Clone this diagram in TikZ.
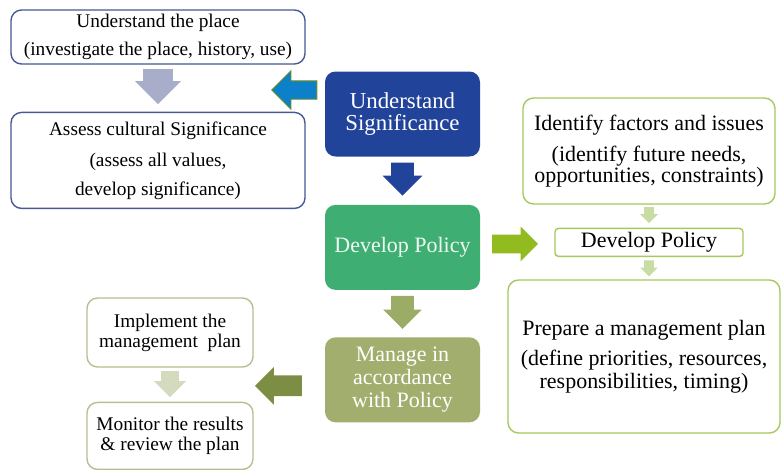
\documentclass[tikz,border=0pt]{standalone}
\usepackage{fontspec}
\setmainfont{Liberation Serif}
\usetikzlibrary{arrows,shapes,positioning,calc}

\definecolor{placeblue}{RGB}{70,88,150}
\definecolor{greyarrow}{RGB}{168,173,201}
\definecolor{skyarrow}{RGB}{12,128,200}
\definecolor{skyedge}{RGB}{90,140,60}
\definecolor{sigblue}{RGB}{34,67,154}
\definecolor{policygreen}{RGB}{62,174,114}
\definecolor{limearrow}{RGB}{146,187,31}
\definecolor{limeedge}{RGB}{166,200,92}
\definecolor{palelime}{RGB}{200,220,163}
\definecolor{olivearrow}{RGB}{155,172,102}
\definecolor{olivebox}{RGB}{161,174,109}
\definecolor{darkolive}{RGB}{125,142,68}
\definecolor{oliveedge}{RGB}{181,191,143}
\definecolor{paleolive}{RGB}{212,218,189}

\begin{document}
\begin{tikzpicture}[node distance=1cm,>=stealth']
  \tikzstyle{box}=[rectangle,rounded corners=6pt,line width=0.8pt,align=center,inner sep=2pt]
  \tikzstyle{place box}=[box,draw=placeblue,fill=white,minimum width=5.88cm,
                         font=\fontsize{11}{16}\selectfont]
  \tikzstyle{stage box}=[box,text=white,minimum width=3.1cm,minimum height=1.7cm,
                         font=\fontsize{12.5}{12.5}\selectfont]
  \tikzstyle{plan box}=[box,draw=limeedge,fill=white,font=\fontsize{12.5}{12}\selectfont]
  \tikzstyle{task box}=[box,draw=oliveedge,fill=white,minimum width=3.32cm,
                        font=\fontsize{11}{11.3}\selectfont]
  % half the shaft is the inner sep across the arrow, minimum width the head
  \tikzstyle{block}=[single arrow,draw=none,inner sep=0pt,anchor=tail]
  \tikzstyle{down}=[block,shape border rotate=270]
  \tikzstyle{left}=[block,shape border rotate=180]

  \useasboundingbox (0,0) rectangle (15.62,-9.38);

  % main column
  \node [stage box,fill=sigblue,font=\fontsize{13}{12}\selectfont] (signif) at (8.05,-2.28)
    {Understand\\Significance};
  \node [stage box,fill=policygreen,text=white!92!policygreen] (policy) [below=0.94cm of signif]
    {Develop Policy};
  \node [stage box,fill=olivebox,font=\fontsize{12.5}{13}\selectfont] (manage) [below=0.92cm of policy]
    {Manage in\\accordance\\with Policy};

  % understand significance
  \node [place box,minimum height=1.08cm] (place) at (3.16,-0.74)
    {Understand the place\\(investigate the place, history, use)};
  \node [place box,minimum height=1.92cm] (assess) [below=0.94cm of place]
    {Assess cultural Significance\\[2pt](assess all values,\\develop significance)};

  % develop policy
  \node [plan box,minimum width=5.04cm,minimum height=2.12cm] (factors) at (12.98,-3.02)
    {Identify factors and issues\\[6pt](identify future needs,\\opportunities, constraints)};
  \node [plan box,rounded corners=2pt,minimum width=3.76cm,minimum height=0.56cm] (devpol)
    [below=0.46cm of factors] {Develop Policy};
  \node [plan box,font=\fontsize{12.5}{13}\selectfont,minimum width=5.44cm,minimum height=3.06cm]
    (plan) at (12.88,-7.13)
    {Prepare a management plan\\[4pt](define priorities, resources,\\responsibilities, timing)};

  % manage
  \node [task box,minimum height=1.38cm] (implement) at (3.4,-6.65)
    {Implement the\\management~ plan};
  \node [task box,minimum height=1.34cm] (monitor) [below=0.68cm of implement]
    {Monitor the results\\\& review the plan};

  % block arrows, placed by their tails
  \node [down,fill=greyarrow,inner xsep=0.29cm,minimum height=0.7cm,minimum width=0.9cm,
         single arrow head extend=0.16cm] (a1) at ($(place.south)+(0,-0.08)$) {};
  \node [left,fill=skyarrow,draw=skyedge,line width=0.6pt,inner ysep=0.17cm,minimum height=0.9cm,
         minimum width=0.74cm,single arrow head extend=0.2cm] (a2)
         at ($(signif.west)+(-0.14,0.48)$) {};
  \node [down,fill=sigblue,inner xsep=0.22cm,minimum height=0.66cm,minimum width=0.78cm,
         single arrow head extend=0.17cm] (a3) at ($(signif.south)+(0,-0.1)$) {};
  \node [block,fill=limearrow,inner ysep=0.18cm,minimum height=0.92cm,minimum width=0.68cm,
         single arrow head extend=0.16cm] (a4) at ($(policy.east)+(0.22,0.07)$) {};
  \node [down,fill=palelime,inner xsep=0.09cm,minimum height=0.32cm,minimum width=0.34cm,
         single arrow head extend=0.08cm] (a5) at ($(factors.south)+(0,-0.04)$) {};
  \node [down,fill=palelime,inner xsep=0.09cm,minimum height=0.32cm,minimum width=0.34cm,
         single arrow head extend=0.08cm] (a6) at ($(devpol.south)+(0,-0.06)$) {};
  \node [down,fill=olivearrow,inner xsep=0.22cm,minimum height=0.66cm,minimum width=0.76cm,
         single arrow head extend=0.16cm] (a7) at ($(policy.south)+(0,-0.1)$) {};
  \node [left,fill=darkolive,inner ysep=0.2cm,minimum height=0.94cm,minimum width=0.74cm,
         single arrow head extend=0.17cm] (a8) at ($(manage.west)+(-0.44,-0.12)$) {};
  \node [down,fill=paleolive,inner xsep=0.17cm,minimum height=0.52cm,minimum width=0.62cm,
         single arrow head extend=0.14cm] (a9) at ($(implement.south)+(0,-0.06)$) {};
\end{tikzpicture}
\end{document}
